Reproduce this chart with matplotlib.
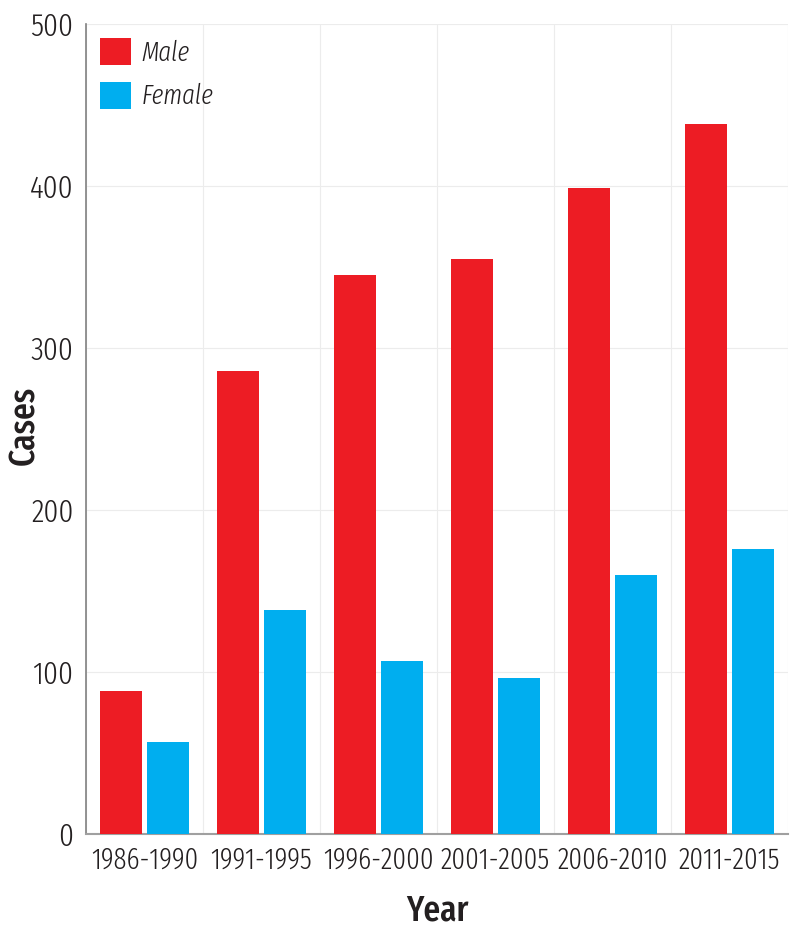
import matplotlib
matplotlib.use("Agg")
import matplotlib.pyplot as plt
import numpy as np
from matplotlib.patches import Patch

categories = ["1986-1990", "1991-1995", "1996-2000", "2001-2005", "2006-2010", "2011-2015"]
male = [88, 286, 345, 355, 399, 438]
female = [57, 138, 107, 96, 160, 176]

FONT = ['Fira Sans Extra Condensed', 'DejaVu Sans']
plt.rcParams['font.family'] = FONT

fig = plt.figure(figsize=(7.94, 9.40), dpi=100)
ax = fig.add_axes([86/794, 106/940, 702/794, 810/940])

x = np.arange(len(categories))
w = 0.36
ax.bar(x - 0.2, male, width=w, color="#ED1C24", zorder=3)
ax.bar(x + 0.2, female, width=w, color="#00AEEF", zorder=3)

ax.set_xlim(-0.5, 5.5)
ax.set_ylim(0, 500)
ax.set_yticks([0, 100, 200, 300, 400, 500])
ax.set_xticks(x)
ax.set_xticklabels(categories)
ax.set_xticks(np.arange(-0.5, 6, 1), minor=True)
ax.tick_params(axis='both', which='both', length=0, labelsize=21, colors="#231f20")
ax.tick_params(axis='x', pad=9)
ax.tick_params(axis='y', labelsize=23, pad=9)
for lab in ax.get_xticklabels() + ax.get_yticklabels():
    lab.set_fontweight(300)
ax.grid(True, which='minor', axis='x', color="#ececec", lw=0.8, zorder=0)
ax.grid(True, which='major', axis='y', color="#ececec", lw=0.8, zorder=0)
ax.grid(False, which='major', axis='x')

for s in ['top', 'right']:
    ax.spines[s].set_visible(False)
ax.spines['left'].set_color("#808080")
ax.spines['bottom'].set_color("#a0a0a0")
ax.spines['left'].set_linewidth(1.2)
ax.spines['bottom'].set_linewidth(1.5)

ax.set_ylabel("Cases", fontsize=26, fontweight=500, color="#231f20")
ax.set_xlabel("Year", fontsize=26, fontweight=500, color="#231f20")
ax.yaxis.set_label_coords(-0.063, 0.505)
ax.xaxis.set_label_coords(0.5, -0.073)

handles = [Patch(facecolor="#ED1C24"), Patch(facecolor="#00AEEF")]
leg = ax.legend(handles, ["Male", "Female"], loc='upper left', frameon=False,
                bbox_to_anchor=((100 - 86) / 702, (834 - 38) / 810),
                handlelength=1.14, handleheight=1.18, handletextpad=0.38,
                labelspacing=0.56, borderaxespad=0, borderpad=0,
                prop={'family': FONT, 'style': 'italic', 'weight': 300, 'size': 19.5})
for t in leg.get_texts():
    t.set_color("#231f20")

fig.savefig("out.png", dpi=100)
